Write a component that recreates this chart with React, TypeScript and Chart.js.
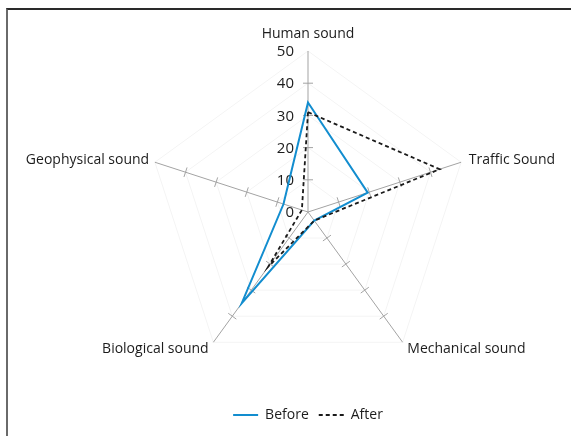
import React, { useEffect, useRef } from 'react';
import { Chart, registerables } from 'chart.js';

Chart.register(...registerables);

const categories = ['Human sound', 'Traffic Sound', 'Mechanical sound', 'Biological sound', 'Geophysical sound'];
const seriesNames = ['Before', 'After'];
const beforeValues = [34, 19.5, 3.3, 35, 8];
const afterValues = [31, 43, 3.3, 21, 2];
const tickValues = [0, 10, 20, 30, 40, 50];

const FONT = "'Open Sans', sans-serif";
const TEXT_COLOR = '#1c1c1c';
const AXIS_COLOR = '#a3a3a3';
const BLUE = '#128dcf';
const BLACK = '#1a1a1a';

const decorPlugin = {
  id: 'decor',
  beforeDatasetsDraw(chart: any) {
    const scale = chart.scales.r;
    const ctx = chart.ctx;
    const maxV = tickValues[tickValues.length - 1];
    ctx.save();
    ctx.strokeStyle = AXIS_COLOR;
    ctx.lineWidth = 1;
    for (let i = 0; i < categories.length; i++) {
      const p0 = scale.getPointPositionForValue(i, 0);
      const p1 = scale.getPointPositionForValue(i, maxV);
      const ang = Math.atan2(p1.y - p0.y, p1.x - p0.x);
      const nx = -Math.sin(ang);
      const ny = Math.cos(ang);
      tickValues.forEach((v) => {
        if (v === 0 || v === maxV) return;
        const p = scale.getPointPositionForValue(i, v);
        ctx.beginPath();
        ctx.moveTo(p.x - nx * 5, p.y - ny * 5);
        ctx.lineTo(p.x + nx * 5, p.y + ny * 5);
        ctx.stroke();
      });
    }
    ctx.fillStyle = TEXT_COLOR;
    ctx.font = `15px ${FONT}`;
    ctx.textAlign = 'right';
    ctx.textBaseline = 'middle';
    tickValues.forEach((v) => {
      const p = scale.getPointPositionForValue(0, v);
      ctx.fillText(String(v), p.x - 14, p.y + 1);
    });
    ctx.restore();
  },
  afterDraw(chart: any) {
    const scale = chart.scales.r;
    const ctx = chart.ctx;
    const pads = [17, 8, 8, 8, 6];
    ctx.save();
    ctx.fillStyle = TEXT_COLOR;
    ctx.font = `14px ${FONT}`;
    ctx.textBaseline = 'middle';
    categories.forEach((label, i) => {
      const p = scale.getPointPosition(i, scale.drawingArea + pads[i]);
      const dx = p.x - scale.xCenter;
      ctx.textAlign = Math.abs(dx) < 2 ? 'center' : dx > 0 ? 'left' : 'right';
      ctx.fillText(label, p.x, p.y);
    });
    ctx.restore();
  },
};

export default function App() {
  const canvasRef = useRef<HTMLCanvasElement | null>(null);

  useEffect(() => {
    if (!canvasRef.current) return;
    const chart = new Chart(canvasRef.current, {
      type: 'radar',
      data: {
        labels: categories,
        datasets: [
          {
            label: seriesNames[0],
            data: beforeValues,
            borderColor: BLUE,
            backgroundColor: 'rgba(0,0,0,0)',
            borderWidth: 2,
            pointRadius: 0,
            pointHoverRadius: 0,
            fill: false,
            tension: 0,
            order: 1,
          },
          {
            label: seriesNames[1],
            data: afterValues,
            borderColor: BLACK,
            backgroundColor: 'rgba(0,0,0,0)',
            borderWidth: 1.8,
            borderDash: [4, 3],
            pointRadius: 0,
            pointHoverRadius: 0,
            fill: false,
            tension: 0,
            order: 0,
          },
        ],
      },
      options: {
        responsive: false,
        animation: false,
        events: [],
        layout: { padding: { left: 147, right: 102, top: 26, bottom: 4 } },
        scales: {
          r: {
            min: 0,
            max: 50,
            ticks: { stepSize: 10, display: false },
            grid: { circular: false, color: '#f4f4f4', lineWidth: 1 },
            angleLines: { display: true, color: AXIS_COLOR, lineWidth: 1 },
            pointLabels: { display: false },
          },
        },
        plugins: {
          tooltip: { enabled: false },
          legend: {
            display: true,
            position: 'bottom',
            labels: {
              font: { family: FONT, size: 14 },
              color: TEXT_COLOR,
              usePointStyle: true,
              pointStyle: 'line',
              pointStyleWidth: 25,
              padding: 10,
              sort: (a: any, b: any) => a.datasetIndex - b.datasetIndex,
              generateLabels: (c: any) => {
                const items = (Chart.defaults as any).plugins.legend.labels.generateLabels(c);
                return items.map((it: any) => {
                  const ds: any = c.data.datasets[it.datasetIndex];
                  return {
                    ...it,
                    pointStyle: 'line',
                    strokeStyle: ds.borderColor,
                    fillStyle: ds.borderColor,
                    lineWidth: ds.borderWidth,
                    lineDash: ds.borderDash || [],
                  };
                });
              },
            },
          },
        },
      },
      plugins: [decorPlugin],
    } as any);
    return () => chart.destroy();
  }, []);

  return (
    <div style={{ position: 'fixed', left: 0, top: 0, width: 571, height: 436, background: '#fff', overflow: 'hidden' }}>
      <canvas ref={canvasRef} width={571} height={436} style={{ position: 'absolute', left: 0, top: 0 }} />
      <div
        style={{
          position: 'absolute',
          left: 6,
          top: 8,
          right: 0,
          bottom: 0,
          borderTop: '2px solid #2a2a2a',
          borderLeft: '2px solid #6a6a6a',
          pointerEvents: 'none',
        }}
      />
    </div>
  );
}
